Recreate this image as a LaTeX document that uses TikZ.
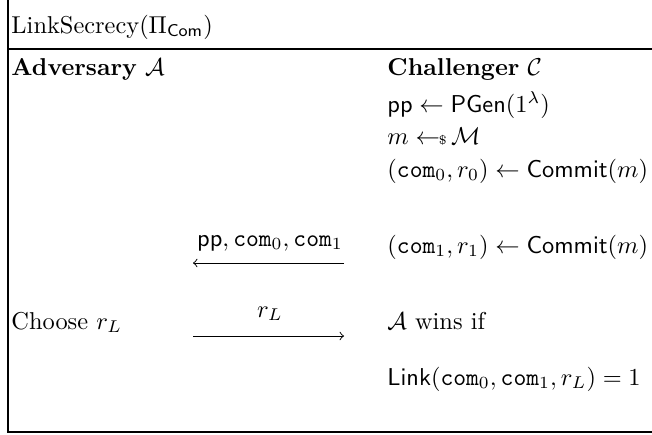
\documentclass[tikz,border=0pt]{standalone}
\usepackage{amsmath}
\usepackage{amssymb}
\usepackage{tikz}

\begin{document}
\begin{tikzpicture}[x=0.41pt,y=-0.41pt,
	txt/.style={anchor=base west,inner sep=0pt},
	lbl/.style={anchor=base,inner sep=0pt}]
	\useasboundingbox (0,0) rectangle (652,434);
	% Define the frame corners
	\coordinate (TL) at (8,0);
	\coordinate (BL) at (8,432);
	\coordinate (BR) at (652,432);
	\coordinate (RL) at (8,49);
	\coordinate (RR) at (652,49);
	
	% Draw the frame and the title rule
	\draw[line width=0.6pt] (TL) -- (BL) -- (BR);
	\draw[line width=0.7pt] (RL) -- (RR);
	\node[txt] (title) at (11,33) {LinkSecrecy$(\Pi_{\mathsf{Com}})$};
	
	% Adversary side
	\node[txt] (adv) at (11,75) {\textbf{Adversary} $\mathcal{A}$};
	\node[txt] (choose) at (11,329) {Choose $r_L$};
	
	% Challenger side
	\node[txt] (chal) at (387,75) {\textbf{Challenger} $\mathcal{C}$};
	\node[txt] (pgen) at (387,112) {$\mathsf{pp} \leftarrow \mathsf{PGen}(1^\lambda)$};
	\node[txt] (samp) at (387,144) {$m \leftarrow\!\!\mbox{\tiny\$}\,\mathcal{M}$};
	\node[txt] (com0) at (387,177) {$(\mathtt{com}_0, r_0) \leftarrow \mathsf{Commit}(m)$};
	\node[txt] (com1) at (387,253) {$(\mathtt{com}_1, r_1) \leftarrow \mathsf{Commit}(m)$};
	\node[txt] (wins) at (387,329) {$\mathcal{A}$ wins if};
	\node[txt] (link) at (387,385) {$\mathsf{Link}(\mathtt{com}_0, \mathtt{com}_1, r_L) = 1$};
	
	% Messages
	\coordinate (m1l) at (193,263);
	\coordinate (m1r) at (344,263);
	\coordinate (m2l) at (193,336);
	\coordinate (m2r) at (344,336);
	\draw[->] (m1r) -- (m1l);
	\draw[->] (m2l) -- (m2r);
	\node[lbl] (msg1) at (270,246) {$\mathsf{pp}, \mathtt{com}_0, \mathtt{com}_1$};
	\node[lbl] (msg2) at (270,317) {$r_L$};
\end{tikzpicture}
\end{document}
